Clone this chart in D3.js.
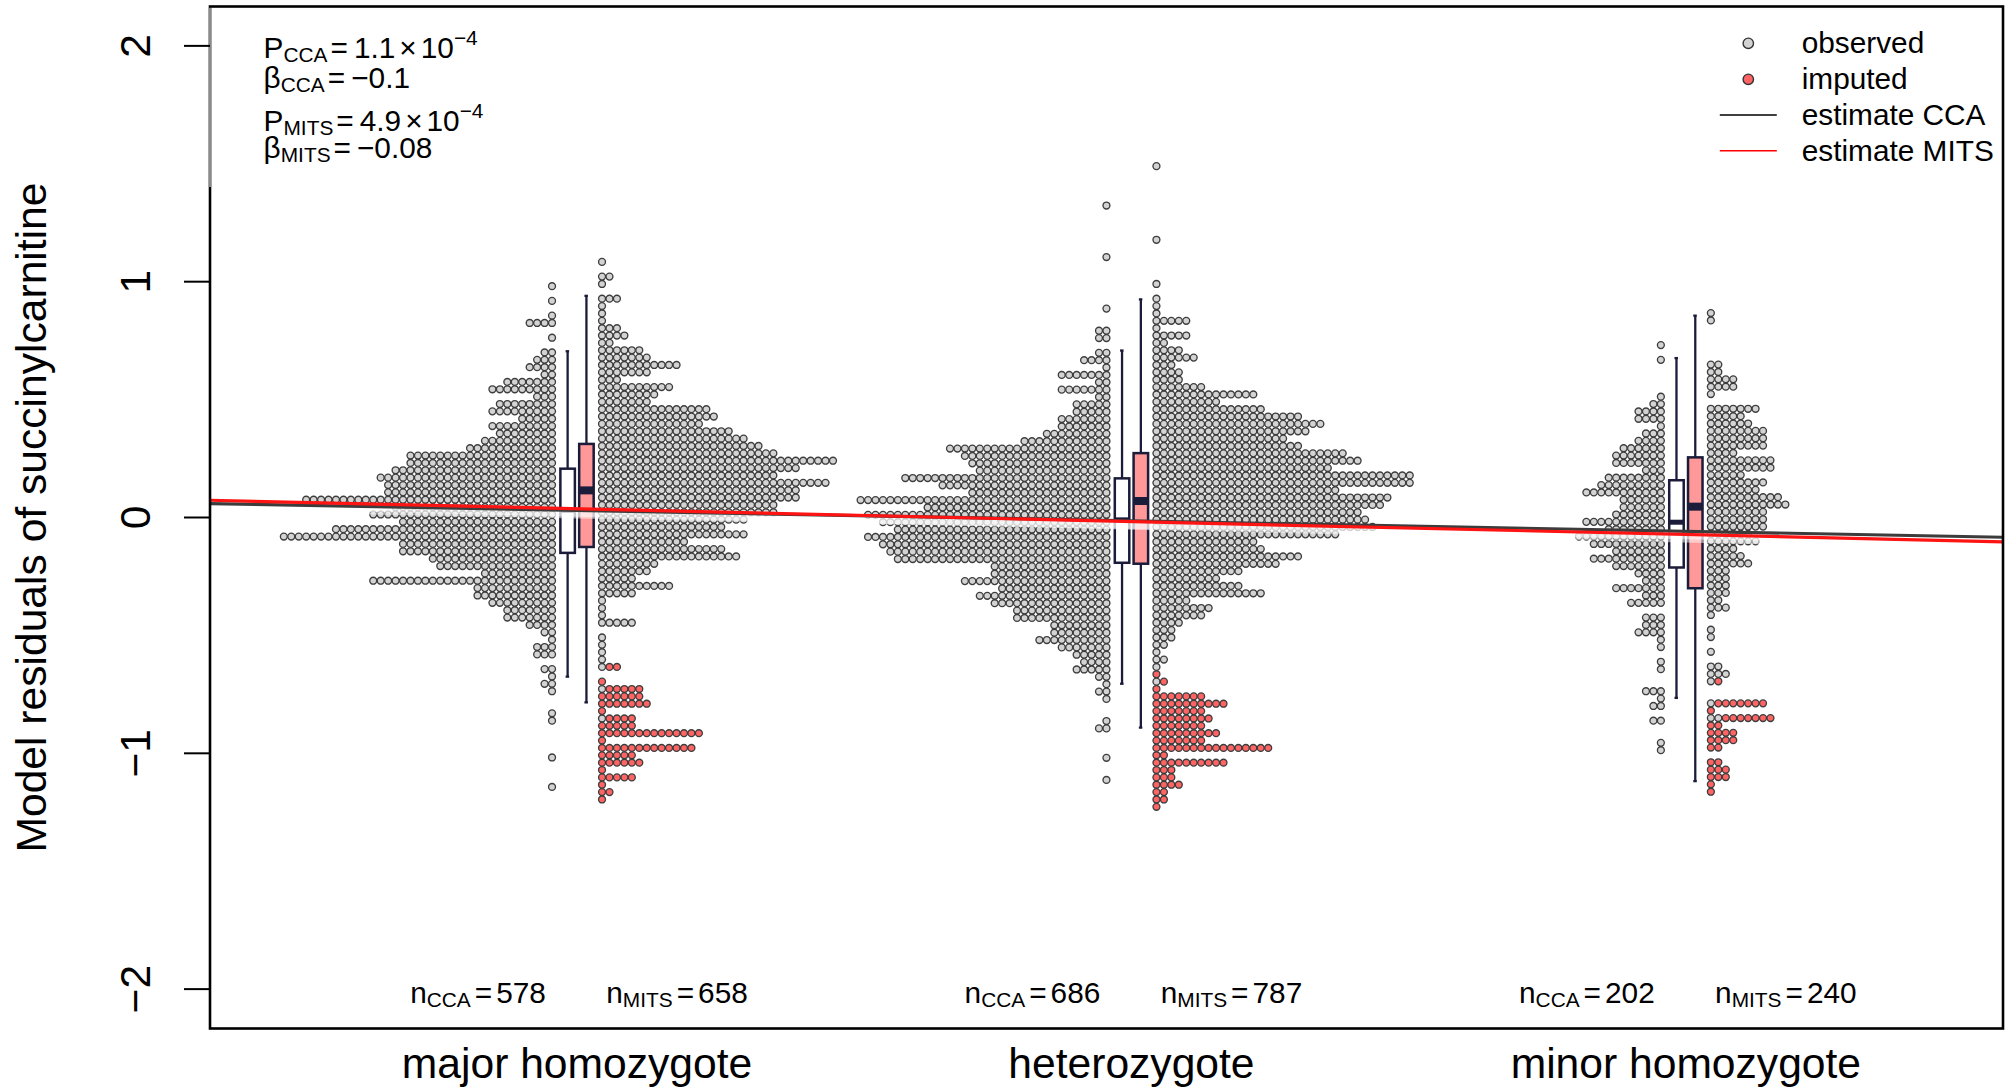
<!DOCTYPE html>
<html><head><meta charset="utf-8">
<script src="https://cdn.jsdelivr.net/npm/d3@7"></script>
<style>body{margin:0;background:#fff} svg{display:block} text{font-family:"Liberation Sans",Arial,Helvetica,sans-serif;fill:#000}</style>
</head><body><svg id="c" width="2016" height="1091"></svg>
<script>
// ---------------- data ----------------
const groups = ["major homozygote", "heterozygote", "minor homozygote"];
const nCCA = [578, 686, 202];
const nMITS = [658, 787, 240];
const yTicks = [-2, -1, 0, 1, 2];
const binWidth = 0.03123;                 // dot-histogram bin height (residual units)
const topCCA = [0.981, 1.323, 0.731];     // value of first (top) bin, CCA side
const topMITS = [1.084, 1.490, 0.867];    // value of first (top) bin, MITS side
const impStart = [55, 69, 50];            // bin index of first imputed bin

// counts per bin, from top bin downward
const majorCCA = [1,0,1,0,1,4,0,1,0,2,3,4,2, 7,9,3,8,9,5,9,8,10,12, 20,20,22,24,23,23,34,22,25, 21,30,37,21,21,17,16, 10,25,11,11,9,7,7,4,2, 1,3,3,0,2,1,2,1,0,0,1,1,0,0,0,0,1,0,0,0,1];
const majorMITSobs = [1,0,2,1,0,3,1,1,1,3,4,2, 6,7,11,7,3,10,8,7, 15,16,14,18,20,22,24, 32,27,24,31,27,27,24,24, 20,17,20,12,17,19,8,7,5,10,5, 1,1,1,5,0,1,1,1,1,1,0,0,1, 0,0,0,1];
const majorMITSimp = [2,0,1,5,6,7,1,4,5,14,1,13,5,6,1,5,1,2,1];

const hetCCA = [1,0,0,0,0,0,0,1,0,0,0,0,0,0,1,0,0, 2,2,0,2,4,1,7,2,7,2,5,5,7,7, 9,12,22,20,19,18,28,23,19,34,25, 33,31,29,33,31,30,29, 16,16,20,15,18,16,13,13, 8,8,10,7,5,4,5,2,1,2,1, 0,0,1,2,0,0,0,1,0,0,1];
const hetMITSobs = [1,0,0,0,0,0,0,0,0,0,1,0,0,0,0,0,1,0,1,1,1,5,1,5,2,4,6,3,4,4,7, 14,9,15,20,23,21,18,20, 26,28,24,35,35,25,32,31,28,29,30,25, 14,15,20,17,12,9,12,15, 5,8,7,4,3,3,2,1,2,1, 0,1];
const hetMITSimp = [1,1,1,7,10,7,8,7,9,7,16,2,10,3,3,4,2,2,1];

const minorCCA = [1,0,1,0,0,0,0,1,2,4,4,1,3,4, 6,7,7,3,8,9,11,6,6,7,11, 8,12,10,7,10,7,4,3,7,3,5, 0,3,3,4,1,1,0,1,1,0,0,3,1,2,0,2,0,0,1,1];
const minorMITSobs = [1,1,0,0,0,0,0,2,2,4,4,1,0, 7,5,6,8,8,8,4,9,9,5, 8,7,10,11,8,8,8,6,7, 4,5,6,3,3,3,3,2,3,1, 0,1,1,0,1,0,2,3,1,0,0,1,0,2];
const minorMITSimp = [1,0,0,7,1,7,2,4,4,2,0,2,3,3,1,1];

// boxplot stats: [lower whisker, Q1, median, Q3, upper whisker]
const boxCCA  = [[-0.675,-0.150,0.030,0.207,0.705], [-0.705,-0.192,-0.010,0.166,0.708], [-0.765,-0.212,-0.020,0.158,0.676]];
const boxMITS = [[-0.784,-0.125,0.115,0.312,0.940], [-0.891,-0.196,0.070,0.273,0.925], [-1.118,-0.300,0.046,0.255,0.856]];

// regression estimates: [value at first genotype, change per genotype step]
const estCCA = [0.030, -0.0442];
const estMITS = [0.037, -0.0545];

// ---------------- drawing ----------------
const W = 2016, H = 1091;
const plot = {left: 210, right: 2003, top: 6.5, bottom: 1028.5};
const svg = d3.select("#c");
svg.append("rect").attr("width", W).attr("height", H).attr("fill", "#fff");

const x = d3.scaleLinear().domain([0.338, 3.572]).range([plot.left, plot.right]);
const y = d3.scaleLinear().domain([-2.167, 2.167]).range([plot.bottom, plot.top]);

svg.append("clipPath").attr("id", "clip").append("rect")
  .attr("x", plot.left).attr("y", plot.top)
  .attr("width", plot.right - plot.left).attr("height", plot.bottom - plot.top);

const ccaSets = [majorCCA, hetCCA, minorCCA];
const obsSets = [majorMITSobs, hetMITSobs, minorMITSobs];
const impSets = [majorMITSimp, hetMITSimp, minorMITSimp];

const dotStep = 7.45, dotGap = 25, dotR = 3.45;
const dots = [];
groups.forEach((g, gi) => {
  const cx = x(gi + 1);
  ccaSets[gi].forEach((c, r) => {
    const v = topCCA[gi] - r * binWidth;
    for (let i = 0; i < c; i++) dots.push({px: cx - dotGap - i * dotStep, v, imp: false});
  });
  const nRows = Math.max(obsSets[gi].length, impStart[gi] + impSets[gi].length);
  for (let r = 0; r < nRows; r++) {
    const o = obsSets[gi][r] || 0;
    const m = (r >= impStart[gi]) ? (impSets[gi][r - impStart[gi]] || 0) : 0;
    const v = topMITS[gi] - r * binWidth;
    for (let i = 0; i < o + m; i++) dots.push({px: cx + dotGap + i * dotStep, v, imp: i >= o});
  }
});

svg.append("g").selectAll("circle").data(dots).join("circle")
  .attr("cx", d => d.px).attr("cy", d => y(d.v)).attr("r", dotR)
  .attr("fill", d => d.imp ? "#ff6464" : "#d3d3d3")
  .attr("stroke", "#3d3d3d").attr("stroke-width", 1.35);

// boxplots
const navy = "#1b1b3a";
const boxW = 14.5, boxOff = 9.4;
function drawBox(cx, s, fill, medW) {
  const g = svg.append("g");
  g.append("line").attr("x1", cx).attr("x2", cx).attr("y1", y(s[3])).attr("y2", y(s[4]))
    .attr("stroke", navy).attr("stroke-width", 2.3);
  g.append("line").attr("x1", cx).attr("x2", cx).attr("y1", y(s[1])).attr("y2", y(s[0]))
    .attr("stroke", navy).attr("stroke-width", 2.3);
  [s[0], s[4]].forEach(v => g.append("line").attr("x1", cx - 2).attr("x2", cx + 1.5)
    .attr("y1", y(v)).attr("y2", y(v)).attr("stroke", navy).attr("stroke-width", 2.3));
  g.append("rect").attr("x", cx - boxW / 2).attr("width", boxW)
    .attr("y", y(s[3])).attr("height", y(s[1]) - y(s[3]))
    .attr("fill", fill).attr("stroke", navy).attr("stroke-width", 2.5);
  g.append("line").attr("x1", cx - boxW / 2).attr("x2", cx + boxW / 2)
    .attr("y1", y(s[2])).attr("y2", y(s[2])).attr("stroke", navy).attr("stroke-width", medW);
}
groups.forEach((g, gi) => {
  const cx = x(gi + 1);
  drawBox(cx - boxOff, boxCCA[gi], "#ffffff", 5);
  drawBox(cx + boxOff, boxMITS[gi], "#ff9999", 8);
});

// regression lines: light halo first, then the two estimate lines
const lg = svg.append("g").attr("clip-path", "url(#clip)");
const [d0, d1] = x.domain();
const lineFn = est => (t => est[0] + est[1] * (t - 1));
[estCCA, estMITS].forEach(est => {
  const f = lineFn(est);
  lg.append("line").attr("x1", x(d0)).attr("x2", x(d1)).attr("y1", y(f(d0)) + 4).attr("y2", y(f(d1)) + 4)
    .attr("stroke", "#fff").attr("stroke-opacity", 0.5).attr("stroke-width", 8);
});
[[estCCA, "#3c3c3c"], [estMITS, "#ff1414"]].forEach(([est, col]) => {
  const f = lineFn(est);
  lg.append("line").attr("x1", x(d0)).attr("x2", x(d1)).attr("y1", y(f(d0))).attr("y2", y(f(d1)))
    .attr("stroke", col).attr("stroke-width", 3.2);
});

// frame
svg.append("rect").attr("x", plot.left).attr("y", plot.top)
  .attr("width", plot.right - plot.left).attr("height", plot.bottom - plot.top)
  .attr("fill", "none").attr("stroke", "#000").attr("stroke-width", 2.6);
// top part of the left border is lighter in the reference
svg.append("line").attr("x1", plot.left).attr("x2", plot.left).attr("y1", plot.top + 1.3).attr("y2", 187)
  .attr("stroke", "#8a8a8a").attr("stroke-width", 2.6);

// y axis ticks
const yax = svg.append("g");
yTicks.forEach(t => {
  yax.append("line").attr("x1", plot.left - 26).attr("x2", plot.left).attr("y1", y(t)).attr("y2", y(t))
    .attr("stroke", "#000").attr("stroke-width", 2);
  yax.append("text").attr("transform", `translate(150,${y(t)}) rotate(-90)`)
    .attr("text-anchor", "middle").attr("font-size", 42.6)
    .text(t < 0 ? "\u2212" + Math.abs(t) : String(t));
});
svg.append("text").attr("transform", `translate(46,${y(0)}) rotate(-90)`)
  .attr("text-anchor", "middle").attr("font-size", 42.6)
  .text("Model residuals of succinylcarnitine");

// group labels
groups.forEach((g, gi) => {
  svg.append("text").attr("x", x(gi + 1)).attr("y", 1078).attr("text-anchor", "middle")
    .attr("font-size", 42.6).text(g);
});

// rich text helper (sub/superscripts)
function rich(x0, y0, parts, size, anchor) {
  const t = svg.append("text").attr("x", x0).attr("y", y0).attr("font-size", size)
    .attr("text-anchor", anchor || "start");
  let shift = 0;
  parts.forEach(p => {
    const target = p.sub ? 4 : (p.sup ? -13 : 0);
    const ts = t.append("tspan").attr("dy", target - shift).text(p.t);
    shift = target;
    if (p.sub || p.sup) ts.attr("font-size", size * 0.7);
    if (p.dx) ts.attr("dx", p.dx);
  });
  return t;
}
const fs = 29.8;
groups.forEach((g, gi) => {
  const cx = x(gi + 1);
  rich(cx - 99, 1003, [{t: "n"}, {t: "CCA", sub: true}, {t: "=", dx: 4}, {t: String(nCCA[gi]), dx: 4}], fs, "middle");
  rich(cx + 100, 1003, [{t: "n"}, {t: "MITS", sub: true}, {t: "=", dx: 4}, {t: String(nMITS[gi]), dx: 4}], fs, "middle");
});

// statistics block
rich(263.6, 57.9, [{t: "P"}, {t: "CCA", sub: true}, {t: "=", dx: 3}, {t: "1.1", dx: 6}, {t: "\u00d7", dx: 4}, {t: "10", dx: 4}, {t: "\u22124", sup: true}], fs);
rich(263.6, 88.2, [{t: "\u03b2"}, {t: "CCA", sub: true}, {t: "=", dx: 3}, {t: "\u22120.1", dx: 6}], fs);
rich(263.6, 130.5, [{t: "P"}, {t: "MITS", sub: true}, {t: "=", dx: 3}, {t: "4.9", dx: 6}, {t: "\u00d7", dx: 4}, {t: "10", dx: 4}, {t: "\u22124", sup: true}], fs);
rich(263.6, 158, [{t: "\u03b2"}, {t: "MITS", sub: true}, {t: "=", dx: 3}, {t: "\u22120.08", dx: 6}], fs);

// legend
const leg = svg.append("g");
const legX = 1748.3, legTx = 1801.7;
const legItems = [
  {label: "observed", type: "pt", fill: "#d3d3d3", y: 43.3},
  {label: "imputed", type: "pt", fill: "#ff6464", y: 79.3},
  {label: "estimate CCA", type: "ln", col: "#000", y: 115},
  {label: "estimate MITS", type: "ln", col: "#ff0000", y: 150.7}
];
legItems.forEach(it => {
  if (it.type === "pt") {
    leg.append("circle").attr("cx", legX).attr("cy", it.y).attr("r", 5.2)
      .attr("fill", it.fill).attr("stroke", "#333").attr("stroke-width", 1.4);
  } else {
    leg.append("line").attr("x1", legX - 28.5).attr("x2", legX + 28.5).attr("y1", it.y).attr("y2", it.y)
      .attr("stroke", it.col).attr("stroke-width", 1.4);
  }
  leg.append("text").attr("x", legTx).attr("y", it.y + 10).attr("font-size", fs).text(it.label);
});
</script></body></html>
